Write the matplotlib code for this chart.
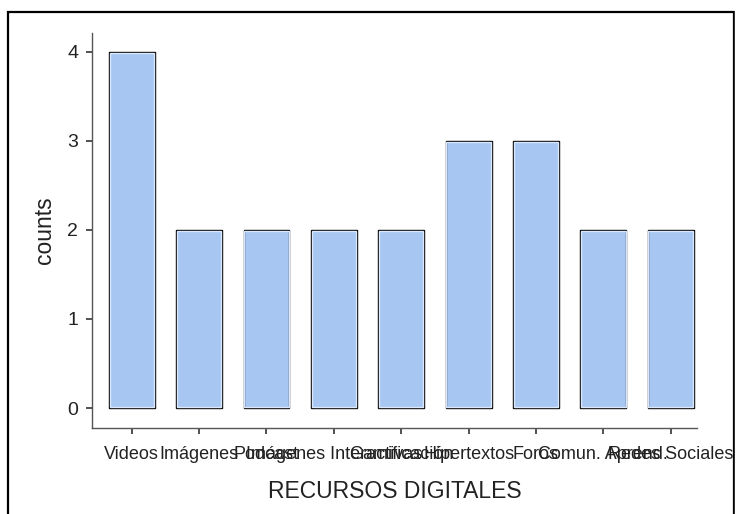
import matplotlib.pyplot as plt
import matplotlib.patches as mpatches

plt.rcParams['font.family'] = ['Liberation Sans', 'DejaVu Sans']

# resource categories and how many times each one was counted
recursos = ['Videos', 'Imágenes', 'Podcast', 'Imágenes Interactivas',
            'Gamificación', 'Hipertextos', 'Foros', 'Comun. Aprend.',
            'Redes Sociales']
counts = [4, 2, 2, 2, 2, 3, 3, 2, 2]

fig = plt.figure(figsize=(7.36, 5.14), dpi=100)
ax = fig.add_axes([0.125, 0.167, 0.822, 0.769])

x = range(len(recursos))
# black outline first, then a thin light rim just inside it
ax.bar(x, counts, width=0.68, color='#a8c6f2', edgecolor='black', linewidth=1.0, zorder=2)
ax.bar(x, [c - 0.02 for c in counts], bottom=0.01, width=0.66, color='none',
       edgecolor='#dbe8fb', linewidth=1.0, zorder=3)

ax.set_xlim(-0.59, 8.39)
ax.set_ylim(-0.225, 4.21)
ax.set_xticks(list(x))
ax.set_xticklabels(recursos, fontsize=13, color='#222222')
ax.set_yticks([0, 1, 2, 3, 4])
ax.tick_params(axis='y', labelsize=14, length=4, width=1.2, color='#333333',
               labelcolor='#222222', pad=6)
ax.tick_params(axis='x', length=4, width=1.2, color='#333333', pad=9)

for side in ['top', 'right']:
    ax.spines[side].set_visible(False)
for side in ['left', 'bottom']:
    ax.spines[side].set_color('#555555')
    ax.spines[side].set_linewidth(1.0)

ax.set_ylabel('counts', fontsize=16.5, color='#222222', labelpad=8)
ax.set_xlabel('RECURSOS DIGITALES', fontsize=16.5, color='#222222', labelpad=12)

# frame drawn around the picture, its bottom edge falls outside the image
fig.patches.append(mpatches.Rectangle((8 / 736, -10 / 514), 726 / 736, 512 / 514,
                                      transform=fig.transFigure, fill=False,
                                      edgecolor='black', linewidth=1.6, zorder=10))
# the frame covers the end of the last tick label
fig.patches.append(mpatches.Rectangle((735 / 736, 0), 1 / 736, 1,
                                      transform=fig.transFigure, color='white', zorder=11))

fig.savefig('out.png', dpi=100)
